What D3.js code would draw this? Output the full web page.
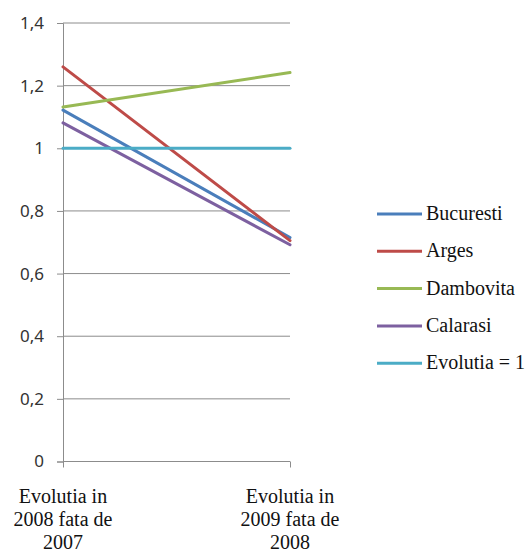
<!DOCTYPE html>
<html><head><meta charset="utf-8">
<script src="https://cdn.jsdelivr.net/npm/d3@7"></script>
</head><body style="margin:0;background:#fff">
<svg id="c" width="531" height="551" style="display:block;font-family:'Liberation Serif'"></svg>
<script>
const categories = [["Evolutia in","2008 fata de","2007"],["Evolutia in","2009 fata de","2008"]];
const seriesNames = ["Bucuresti","Arges","Dambovita","Calarasi","Evolutia = 1"];
const bucuresti = [1.122, 0.715];
const arges = [1.26, 0.705];
const dambovita = [1.132, 1.242];
const calarasi = [1.081, 0.692];
const evolutia = [1, 1];
const yTicks = [0,0.2,0.4,0.6,0.8,1,1.2,1.4];
const colors = ["#4a7ebb","#be4b48","#98b954","#7d60a0","#4bacc6"];
const seriesValues = [bucuresti, arges, dambovita, calarasi, evolutia];

const svg = d3.select("#c");
const x = d3.scalePoint().domain([0,1]).range([63,290]);
const y = d3.scaleLinear().domain([0,1.4]).range([461.5,23]);

svg.append("g").selectAll("line").data(yTicks.filter(d=>d>0)).join("line")
  .attr("x1",63).attr("x2",290).attr("y1",d=>y(d)).attr("y2",d=>y(d))
  .attr("stroke","#8c8c8c").attr("stroke-width",1);

const fmt = d => String(+d.toFixed(1)).replace(".",",");
const ya = svg.append("g").attr("transform","translate(63,0)")
  .call(d3.axisLeft(y).tickValues(yTicks).tickFormat(fmt).tickSize(6).tickPadding(13));
ya.attr("font-family","Noto Sans").attr("font-size",17);
ya.select(".domain").attr("stroke","#8c8c8c");
ya.selectAll(".tick line").attr("stroke","#8c8c8c");
ya.selectAll("text").attr("fill","#333");

const xa = svg.append("g").attr("transform","translate(0,461.5)")
  .call(d3.axisBottom(x).tickValues([0,1]).tickFormat("").tickSize(6));
xa.select(".domain").attr("stroke","#8c8c8c").attr("d","M63,0H290");
xa.selectAll(".tick line").attr("stroke","#8c8c8c");

const catG = svg.append("g").attr("font-family","Liberation Serif").attr("font-size",20);
categories.forEach((lines,i)=>{
  lines.forEach((s,j)=>{
    catG.append("text").attr("x",x(i)).attr("y",503+j*23)
      .attr("text-anchor","middle").attr("fill","#111").text(s);
  });
});

const line = d3.line().x((d,i)=>x(i)).y(d=>y(d));
svg.append("g").selectAll("path").data(seriesValues).join("path")
  .attr("d",d=>line(d)).attr("fill","none")
  .attr("stroke",(d,i)=>colors[i]).attr("stroke-width",3).attr("stroke-linecap","round");

const lg = svg.append("g").attr("font-family","Liberation Serif").attr("font-size",20)
  .selectAll("g").data(seriesNames).join("g")
  .attr("transform",(d,i)=>`translate(0,${214 + i*37.3})`);
lg.append("line").attr("x1",377).attr("x2",422).attr("y1",0).attr("y2",0)
  .attr("stroke",(d,i)=>colors[i]).attr("stroke-width",3);
lg.append("text").attr("x",426).attr("y",6).text(d=>d).attr("fill","#111");
</script>
</body></html>
